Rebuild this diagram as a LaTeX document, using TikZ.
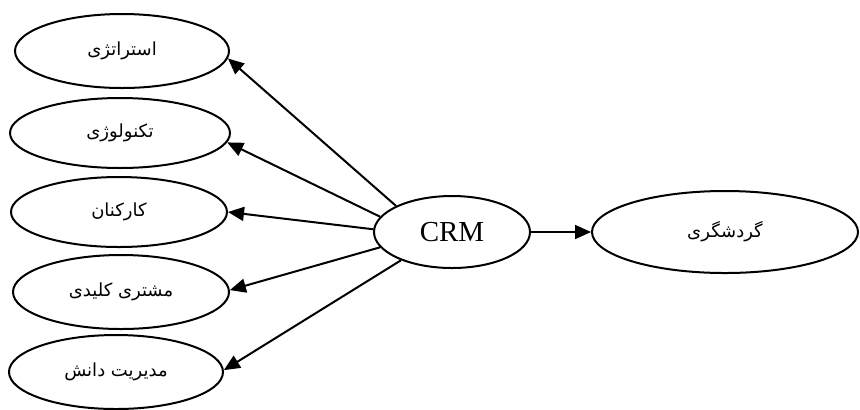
\documentclass[tikz,border=0pt]{standalone}
\usepackage{fontspec}
\setmainfont{Liberation Serif}
\newfontfamily\arabicfont[Script=Arabic]{DejaVu Sans}
\TeXXeTstate=1
\usetikzlibrary{shapes.geometric,arrows.meta}
\begin{document}
\begin{tikzpicture}[x=0.5pt,y=-0.5pt,
  oval/.style={draw,line width=1pt,ellipse,inner sep=0pt},
  fa/.style={font=\arabicfont\fontsize{9}{11}\selectfont},
  arr/.style={line width=1pt,-{Triangle[length=8pt,width=7pt]}}]
\useasboundingbox (0,0) rectangle (860,409);
\node[oval,minimum width=107pt,minimum height=37pt,fa] (e1) at (122,51) {\beginR استراتژی\endR};
\node[oval,minimum width=110pt,minimum height=35pt,fa] (e2) at (120,133) {\beginR تکنولوژی\endR};
\node[oval,minimum width=108pt,minimum height=35pt,fa] (e3) at (119,212) {\beginR کارکنان\endR};
\node[oval,minimum width=108pt,minimum height=37pt,fa] (e4) at (121,292) {\beginR مشتری کلیدی\endR};
\node[oval,minimum width=107pt,minimum height=37pt,fa] (e5) at (116,372) {\beginR مدیریت دانش\endR};
\node[oval,minimum width=78pt,minimum height=36pt,font=\fontsize{14.5}{16}\selectfont] (crm) at (452,232) {CRM};
\node[oval,minimum width=133pt,minimum height=41pt,fa] (g) at (725,232) {\beginR گردشگری\endR};
\draw[arr] (crm.155) -- (e1.-4);
\draw[arr] (crm.168) -- (e2.-5);
\draw[arr] (crm.178) -- (e3.0);
\draw[arr] (crm.-168) -- (e4.1);
\draw[arr] (crm.-151) -- (e5.1);
\draw[arr] (crm.east) -- (g.west);
\end{tikzpicture}
\end{document}
